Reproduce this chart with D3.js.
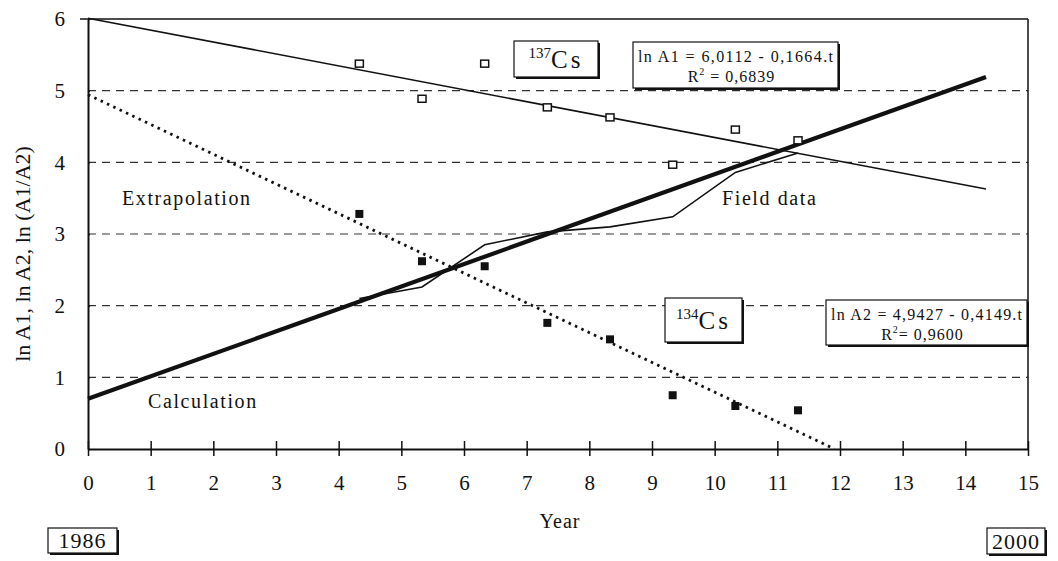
<!DOCTYPE html>
<html>
<head>
<meta charset="utf-8">
<script src="https://cdn.jsdelivr.net/npm/d3@7"></script>
<style>
  body { margin: 0; background: #fff; }
  svg text { font-family: "Liberation Serif", "DejaVu Serif", serif; fill: #111; }
</style>
</head>
<body>
<div id="chart"></div>
<script>
var width = 1058,
    height = 561;

// measured years after 1986
var years = [4.33, 5.33, 6.33, 7.33, 8.33, 9.33, 10.33, 11.33];
var lnA1 = [5.37, 4.88, 5.37, 4.76, 4.62, 3.96, 4.45, 4.30];   // 137Cs, open squares
var lnA2 = [3.28, 2.62, 2.55, 1.76, 1.53, 0.75, 0.60, 0.54];   // 134Cs, filled squares
var fieldData = [2.10, 2.26, 2.85, 3.03, 3.10, 3.24, 3.86, 4.13];

// regression lines as printed on the chart
var fitA1 = {a: 6.0112, b: 0.1664, t0: 0, t1: 14.33};
var fitA2 = {a: 4.9427, b: 0.4149, t0: 0, t1: 11.91};

// calculation line ln(A1/A2)
var calcX = [0, 14.33];
var calcY = [0.70, 5.19];

var xTicks = d3.range(0, 16);
var yTicks = [0, 1, 2, 3, 4, 5, 6];

var svg = d3.select("#chart").append("svg")
    .attr("width", width)
    .attr("height", height);

var x = d3.scaleLinear().domain([0, 15]).range([88, 1028]);
var y = d3.scaleLinear().domain([0, 6]).range([449, 19]);

var ink = "#111";

// dashed grid
svg.append("g").selectAll("line")
    .data(yTicks.filter(function(d) { return d > 0 && d < 6; }))
    .enter().append("line")
    .attr("x1", x(0)).attr("x2", x(15))
    .attr("y1", function(d) { return y(d); })
    .attr("y2", function(d) { return y(d); })
    .attr("stroke", "#333")
    .attr("stroke-width", 1.2)
    .attr("stroke-dasharray", "8,6");

// frame: top and right
svg.append("line")
    .attr("x1", x(0) - 8).attr("x2", x(15))
    .attr("y1", y(6)).attr("y2", y(6))
    .attr("stroke", ink).attr("stroke-width", 1.5);
svg.append("line")
    .attr("x1", x(15)).attr("x2", x(15))
    .attr("y1", y(6)).attr("y2", y(0))
    .attr("stroke", ink).attr("stroke-width", 1.5);

// x axis
var xAxis = svg.append("g")
    .attr("transform", "translate(0," + y(0) + ")")
    .call(d3.axisBottom(x).tickValues(xTicks).tickFormat(d3.format("d"))
        .tickSize(7).tickPadding(19).tickSizeOuter(0));
xAxis.select(".domain").attr("stroke", ink).attr("stroke-width", 2);
xAxis.selectAll(".tick line").attr("y1", -8).attr("stroke", ink).attr("stroke-width", 1.5);
xAxis.selectAll(".tick text")
    .attr("fill", ink)
    .style("font-size", "21px")
    .style("font-family", "Liberation Serif");

// y axis
var yAxis = svg.append("g")
    .attr("transform", "translate(" + x(0) + ",0)")
    .call(d3.axisLeft(y).tickValues(yTicks).tickFormat(d3.format("d"))
        .tickSize(8).tickPadding(15).tickSizeOuter(0));
yAxis.select(".domain").attr("stroke", ink).attr("stroke-width", 2);
yAxis.selectAll(".tick line").attr("x2", 2).attr("stroke", ink).attr("stroke-width", 1.5);
yAxis.selectAll(".tick text")
    .attr("fill", ink)
    .style("font-size", "21px")
    .style("font-family", "Liberation Serif");

// axis titles
svg.append("text")
    .attr("x", 560).attr("y", 528)
    .attr("text-anchor", "middle")
    .style("font-size", "20px")
    .style("letter-spacing", "1px")
    .text("Year");

svg.append("text")
    .attr("transform", "translate(30,254) rotate(-90)")
    .attr("text-anchor", "middle")
    .style("font-size", "22px")
    .text("ln A1, ln A2, ln (A1/A2)");

// regression line 137Cs
svg.append("line")
    .attr("x1", x(fitA1.t0)).attr("y1", y(fitA1.a - fitA1.b * fitA1.t0))
    .attr("x2", x(fitA1.t1)).attr("y2", y(fitA1.a - fitA1.b * fitA1.t1))
    .attr("stroke", ink).attr("stroke-width", 1.6);

// regression line 134Cs (dotted)
svg.append("line")
    .attr("x1", x(fitA2.t0)).attr("y1", y(fitA2.a - fitA2.b * fitA2.t0))
    .attr("x2", x(fitA2.t1)).attr("y2", y(fitA2.a - fitA2.b * fitA2.t1))
    .attr("stroke", ink).attr("stroke-width", 2.8)
    .attr("stroke-dasharray", "2.5,4.5");

// calculation line
var line = d3.line()
    .x(function(d) { return x(d[0]); })
    .y(function(d) { return y(d[1]); });

svg.append("path")
    .datum(d3.zip(calcX, calcY))
    .attr("d", line)
    .attr("fill", "none")
    .attr("stroke", ink)
    .attr("stroke-width", 4.2);

// field data
svg.append("path")
    .datum(d3.zip(years, fieldData))
    .attr("d", line)
    .attr("fill", "none")
    .attr("stroke", ink)
    .attr("stroke-width", 1.6);

// 137Cs points
svg.append("g").selectAll("rect")
    .data(d3.zip(years, lnA1))
    .enter().append("rect")
    .attr("x", function(d) { return x(d[0]) - 4; })
    .attr("y", function(d) { return y(d[1]) - 4; })
    .attr("width", 8).attr("height", 7)
    .attr("fill", "#fff")
    .attr("stroke", ink)
    .attr("stroke-width", 1.5);

// 134Cs points
svg.append("g").selectAll("rect")
    .data(d3.zip(years, lnA2))
    .enter().append("rect")
    .attr("x", function(d) { return x(d[0]) - 4; })
    .attr("y", function(d) { return y(d[1]) - 4; })
    .attr("width", 8).attr("height", 8)
    .attr("fill", ink);

// text labels in plot
function label(tx, ty, str) {
    svg.append("text")
        .attr("x", tx).attr("y", ty)
        .style("font-size", "20px")
        .style("letter-spacing", "1.6px")
        .text(str);
}
label(122, 205, "Extrapolation");
label(722, 205, "Field data");
label(148, 408, "Calculation");

// framed boxes with a small shadow
function box(bx, by, bw, bh) {
    svg.append("rect")
        .attr("x", bx + 2).attr("y", by + 2)
        .attr("width", bw).attr("height", bh)
        .attr("fill", ink);
    svg.append("rect")
        .attr("x", bx).attr("y", by)
        .attr("width", bw).attr("height", bh)
        .attr("fill", "#fff")
        .attr("stroke", ink)
        .attr("stroke-width", 1.2);
}

function isotope(bx, by, bw, bh, mass) {
    box(bx, by, bw, bh);
    var t = svg.append("text")
        .attr("x", bx + bw / 2).attr("y", by + bh / 2 + 9)
        .attr("text-anchor", "middle")
        .style("font-size", "25px");
    t.append("tspan").attr("dy", -10).style("font-size", "15px").text(mass);
    t.append("tspan").attr("dy", 10).style("letter-spacing", "3px").text("Cs");
}
isotope(514, 41, 84, 36, "137");
isotope(665, 298, 77, 44, "134");

function equation(bx, by, bw, bh, eq, r2) {
    box(bx, by, bw, bh);
    svg.append("text")
        .attr("x", bx + 5).attr("y", by + 20)
        .attr("textLength", bw - 10)
        .style("font-size", "16px")
        .text(eq);
    var t = svg.append("text")
        .attr("x", bx + bw / 2 - 4).attr("y", by + 40)
        .attr("text-anchor", "middle")
        .style("font-size", "16px")
        .style("letter-spacing", "1px");
    t.append("tspan").text("R");
    t.append("tspan").attr("dy", -7).style("font-size", "10px").text("2");
    t.append("tspan").attr("dy", 7).text(r2);
}
equation(633, 42, 205, 46, "ln A1 = 6,0112 - 0,1664.t", " = 0,6839");
equation(826, 300, 201, 45, "ln A2 = 4,9427 - 0,4149.t", "= 0,9600");

// start / end years
function yearBox(bx, by, bw, bh, str) {
    box(bx, by, bw, bh);
    svg.append("text")
        .attr("x", bx + bw / 2).attr("y", by + bh - 5)
        .attr("text-anchor", "middle")
        .style("font-size", "22px")
        .style("letter-spacing", "1px")
        .text(str);
}
yearBox(48, 528, 69, 25, "1986");
yearBox(987, 528, 58, 26, "2000");
</script>
</body>
</html>
